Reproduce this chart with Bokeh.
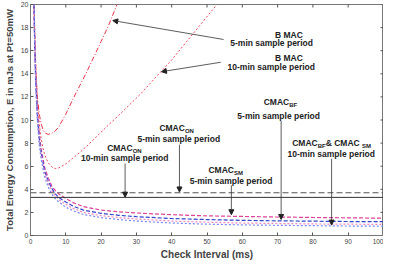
import math
from bokeh.plotting import figure
from bokeh.models import Range1d, FixedTicker, Span, Arrow, NormalHead
from bokeh.core.properties import value
from bokeh.embed import file_html
from bokeh.resources import INLINE

# ---- axes ----
x_ticks = [0, 10, 20, 30, 40, 50, 60, 70, 80, 90, 100]
y_ticks = [0, 2, 4, 6, 8, 10, 12, 14, 16, 18, 20]

# ---- BMAC curves ----
bmac5_x = [1.0, 1.3, 1.6, 2.0, 2.5, 3.0, 3.5, 4.0, 5.0, 6.0, 7.0, 8.0, 10, 12, 14, 16, 18, 20, 22, 24.5]
bmac5_y = [20, 16.0, 13.6, 11.8, 10.5, 9.7, 9.2, 8.9, 8.75, 8.85, 9.05, 9.4, 10.5, 11.8, 13.0, 14.2, 15.5, 16.8, 18.1, 20]
bmac10_x = [1.05, 1.4, 2.0, 2.5, 3.0, 3.5, 4.0, 5.0, 6.0, 7.0, 8.0, 10, 12, 14, 16, 18, 20, 22, 25, 28, 31, 34, 37, 40, 44, 48, 52.8]
bmac10_y = [20, 15.5, 11.4, 9.6, 8.4, 7.6, 7.0, 6.3, 5.95, 5.8, 5.85, 6.2, 6.7, 7.2, 7.75, 8.35, 8.95, 9.55, 10.4, 11.3, 12.2, 13.2, 14.2, 15.2, 16.7, 18.2, 20]

# ---- CMAC curves ----
cx = [1.2, 1.5, 2, 2.5, 3, 4, 5, 6, 7, 8, 10, 12, 15, 20, 25, 30, 40, 50, 60, 70, 80, 90, 100]
sm5_x = [0.95] + cx
sm5_y = [20, 16.5, 13.6, 10.5, 8.7, 7.5, 5.9, 5.0, 4.3, 3.9, 3.6, 3.2, 2.85, 2.5, 2.2, 2.05, 1.95, 1.8, 1.7, 1.65, 1.6, 1.56, 1.53, 1.5]
bf5_x = [1.0] + cx
bf5_y = [20, 16.4, 13.3, 10.2, 8.4, 7.2, 5.6, 4.7, 4.1, 3.6, 3.3, 2.9, 2.55, 2.2, 1.92, 1.75, 1.63, 1.47, 1.38, 1.31, 1.27, 1.24, 1.21, 1.2]
sm10_x = [1.0] + cx
sm10_y = [20, 16.2, 13.2, 10.0, 8.2, 7.0, 5.4, 4.5, 3.9, 3.45, 3.1, 2.7, 2.35, 2.0, 1.72, 1.55, 1.43, 1.25, 1.15, 1.08, 1.04, 1.0, 0.98, 0.96]
bf10_x = [1.05] + cx
bf10_y = [20, 15.9, 12.7, 9.6, 7.8, 6.6, 5.1, 4.2, 3.6, 3.2, 2.9, 2.45, 2.15, 1.82, 1.55, 1.38, 1.25, 1.08, 0.98, 0.92, 0.88, 0.85, 0.82, 0.8]

# ---- CMAC_ON levels ----
on5_level = 3.7
on10_level = 3.3

FONT = "Liberation Sans"
MAIN = 8.5
SUB = 6.0

p = figure(width=383, height=262, output_backend="svg", toolbar_location=None,
           x_range=Range1d(0, 100), y_range=Range1d(0, 20),
           min_border_left=26, min_border_right=0, min_border_top=4, min_border_bottom=10)
p.xgrid.visible = False
p.ygrid.visible = False
p.outline_line_color = "#777777"
p.outline_line_width = 1
p.background_fill_color = "white"
p.border_fill_color = "white"

def style_axis(ax, ticks, size):
    ax.ticker = FixedTicker(ticks=ticks)
    ax.minor_tick_line_color = None
    ax.major_tick_in = 3
    ax.major_tick_out = 0
    ax.axis_line_color = "#777777"
    ax.major_tick_line_color = "#555555"
    ax.major_label_text_font = FONT
    ax.major_label_text_font_size = size
    ax.major_label_text_color = "#444444"

style_axis(p.xaxis[0], x_ticks, "6.5px")
style_axis(p.yaxis[0], y_ticks, "7px")
p.xaxis.major_label_standoff = 3
p.yaxis.major_label_standoff = 2
p.xaxis.axis_label = "Check Interval (ms)"
p.xaxis.axis_label_text_font = FONT
p.xaxis.axis_label_text_font_style = "bold"
p.xaxis.axis_label_text_font_size = "10px"
p.xaxis.axis_label_standoff = 2
p.yaxis.axis_label = "Total Energy Consumption, E in mJs at Pt=50mW"
p.yaxis.axis_label_text_font = FONT
p.yaxis.axis_label_text_font_style = "bold"
p.yaxis.axis_label_text_font_size = "9.5px"
p.yaxis.axis_label_standoff = 3

# inward ticks on the top and right edges of the box
p.scatter(x=x_ticks, y=[y_ticks[-1]] * len(x_ticks), marker="dash", angle=math.pi / 2,
          size=6, line_color="#555555", line_width=1)
p.scatter(x=[x_ticks[-1]] * len(y_ticks), y=y_ticks, marker="dash",
          size=6, line_color="#555555", line_width=1)

# horizontal CMAC_ON lines
p.add_layout(Span(location=on5_level, dimension="width", line_color="#555555", line_width=1, line_dash="6 3"))
p.add_layout(Span(location=on10_level, dimension="width", line_color="#333333", line_width=1))

# curves
p.line(bmac5_x, bmac5_y, line_color="#e8334a", line_width=1, line_dash="5 2 1 2")
p.line(bmac10_x, bmac10_y, line_color="#e8334a", line_width=0.9, line_dash="2 2")
p.line(sm5_x, sm5_y, line_color="#dd4499", line_width=1.2, line_dash="4 2")
p.line(bf5_x, bf5_y, line_color="#3344cc", line_width=1.2, line_dash="4 2")
p.line(sm10_x, sm10_y, line_color="#ee88bb", line_width=1.2, line_dash="2 2")
p.line(bf10_x, bf10_y, line_color="#7788ee", line_width=1.2, line_dash="2 2")

# ---- annotations ----
W = {"C": .722, "M": .833, "A": .722, "O": .778, "N": .722, "B": .722,
     "F": .611, "S": .667, "&": .722, " ": .278}

def wid(s, fs):
    return sum(W.get(c, .6) for c in s) * fs

def line_text(x, y, t):
    p.text(x=[x], y=[y], text=[t], text_font=value(FONT), text_font_style="bold",
           text_font_size=f"{MAIN}px", text_align="center", text_baseline="middle",
           text_color="#222222")

def sub_text(x, y, parts):
    total = sum(wid(t, SUB if s else MAIN) for t, s in parts)
    off = -total / 2
    for t, s in parts:
        fs = SUB if s else MAIN
        p.text(x=[x], y=[y], text=[t], x_offset=off, y_offset=(3 if s else 0),
               text_font=value(FONT), text_font_style="bold", text_font_size=f"{fs}px",
               text_align="left", text_baseline="middle", text_color="#222222")
        off += wid(t, fs)

def arrow(x0, y0, x1, y1):
    p.add_layout(Arrow(end=NormalHead(size=5, fill_color="#222222", line_color="#222222"),
                       x_start=x0, y_start=y0, x_end=x1, y_end=y1,
                       line_color="#333333", line_width=0.8))

# BMAC 5-min
line_text(73.2, 17.38, "B MAC")
line_text(68.3, 16.64, "5-min sample period")
arrow(54.7, 16.97, 23.3, 18.61)
# BMAC 10-min
line_text(73.2, 15.33, "B MAC")
line_text(68.2, 14.59, "10-min sample period")
arrow(53.9, 15.0, 37.1, 14.18)
# CMAC_BF 5-min
sub_text(70.8, 11.53, [("CMAC", False), ("BF", True)])
line_text(70.3, 10.35, "5-min sample period")
arrow(71.0, 9.92, 71.0, 1.39)
# CMAC_BF & CMAC_SM 10-min
sub_text(85.3, 8.01, [("CMAC", False), ("BF", True), (" & CMAC", False), ("SM", True)])
line_text(85.2, 7.05, "10-min sample period")
arrow(85.3, 6.64, 85.3, 0.90)
# CMAC_ON 5-min
sub_text(41.4, 9.3, [("CMAC", False), ("ON", True)])
line_text(42.0, 8.32, "5-min sample period")
arrow(42.2, 7.87, 42.2, 3.77)
# CMAC_ON 10-min
sub_text(26.6, 7.58, [("CMAC", False), ("ON", True)])
line_text(26.7, 6.68, "10-min sample period")
arrow(26.8, 6.23, 26.8, 3.32)
# CMAC_SM 5-min
sub_text(55.3, 5.66, [("CMAC", False), ("SM", True)])
line_text(56.8, 4.75, "5-min sample period")
arrow(56.9, 4.34, 56.9, 1.80)

open("out.html", "w").write(file_html(p, INLINE))
